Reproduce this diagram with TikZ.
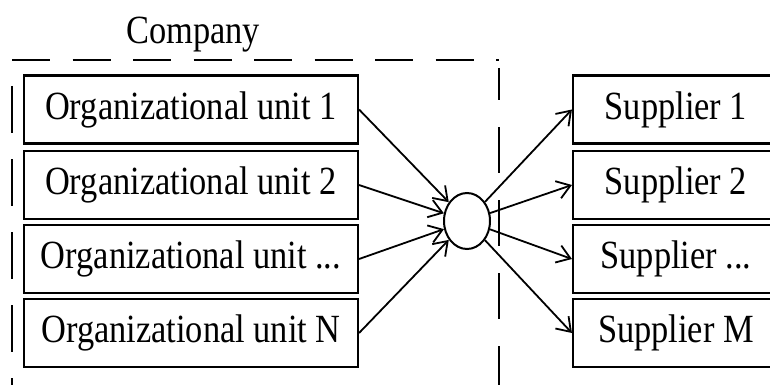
\documentclass[tikz,border=0pt]{standalone}
\usepackage{fontspec}
\setmainfont{Liberation Serif}[FakeStretch=0.86]
\usetikzlibrary{arrows.meta,shapes.geometric}
\begin{document}
\begin{tikzpicture}[x=1pt,y=-1pt,
  unitbox/.style={draw,line width=2.1pt,minimum width=334pt,minimum height=68pt,inner sep=0pt,font=\fontsize{40}{45}\selectfont},
  supbox/.style={draw,line width=2.1pt,minimum width=206pt,minimum height=68pt,inner sep=0pt,font=\fontsize{40}{45}\selectfont},
  hubnode/.style={draw,ellipse,line width=2pt,minimum width=46pt,minimum height=56pt,inner sep=0pt},
  flow/.style={line width=1.8pt,-{Straight Barb[length=13pt,width=18pt,line width=1.8pt]}},
  border/.style={line width=2.3pt}]
\useasboundingbox (0,0) rectangle (770,385);
\clip (0,0) rectangle (770,385);
% company boundary
\draw[border,dash pattern=on 38pt off 22.5pt] (12,60) -- (499,60);
\draw[border,dash pattern=on 47pt off 26pt] (12,86) -- (12,400);
\draw[border,dash pattern=on 46pt off 27pt,dash phase=14pt] (499,68) -- (499,400);
\node[font=\fontsize{40}{45}\selectfont] (company) at (193,35) {Company};
% units
\node[unitbox] (u1) at (191,109.5) {Organizational unit 1};
\node[unitbox] (u2) at (191,185) {Organizational unit 2};
\node[unitbox] (u3) at (191,259) {Organizational unit ...};
\node[unitbox] (u4) at (191,333) {Organizational unit N};
% suppliers
\node[supbox] (s1) at (676,109.5) {Supplier 1};
\node[supbox] (s2) at (676,185) {Supplier 2};
\node[supbox] (s3) at (676,259) {Supplier ...};
\node[supbox] (s4) at (676,333) {Supplier M};
% hub
\node[hubnode,fill=white] (hub) at (467,221) {};
\foreach \u in {u1,u2,u3,u4}{\draw[flow] (\u.east) -- (hub);}
\foreach \s in {s1,s2,s3,s4}{\draw[flow] (hub) -- (\s.west);}
\end{tikzpicture}
\end{document}
